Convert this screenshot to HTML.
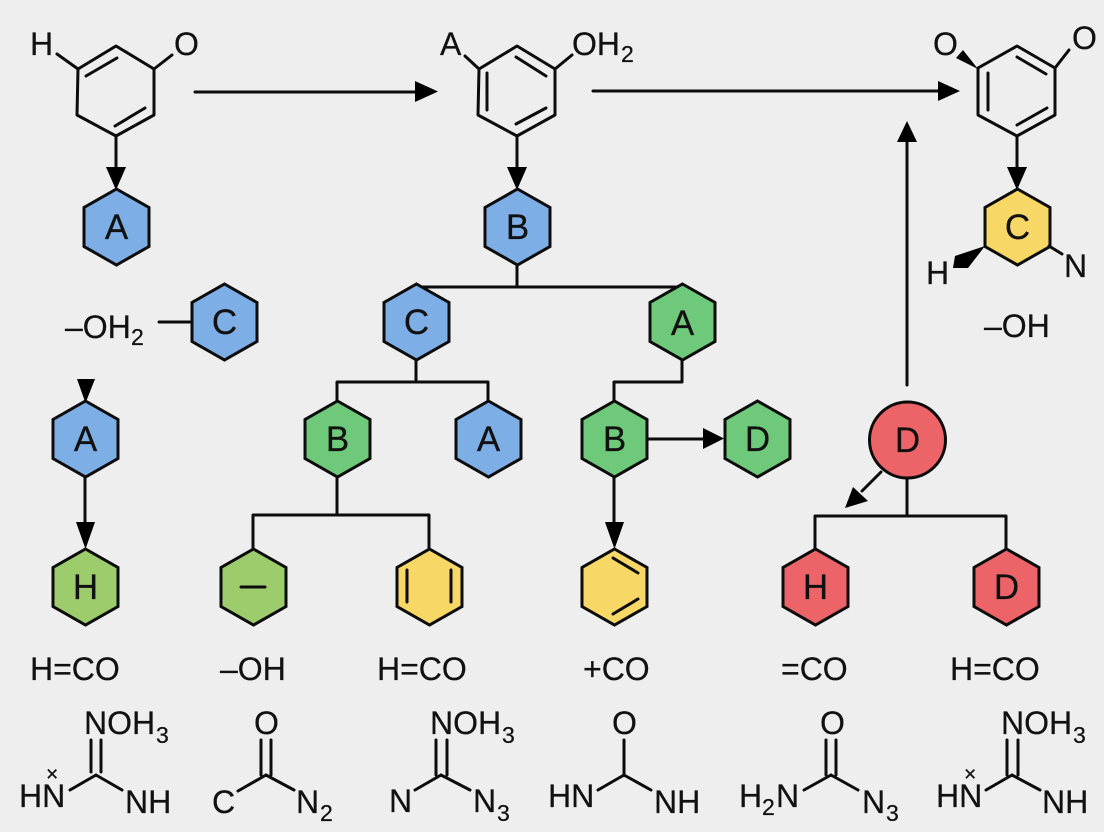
<!DOCTYPE html>
<html lang="en"><head><meta charset="utf-8"><title>Diagram</title>
<style>
html,body{margin:0;padding:0;background:#eeeeee}
svg{display:block}
text{font-family:"Liberation Sans",sans-serif;fill:#111;font-size:32px;stroke:#111;stroke-width:.25px}
.n{font-size:35px;text-anchor:middle}
.s{font-size:23px}
.l{fill:none;stroke:#0c0c0c;stroke-width:3;stroke-linecap:round;stroke-linejoin:round}
.h{stroke:#0c0c0c;stroke-width:3;stroke-linejoin:miter}
.a{fill:#000}
</style></head><body>
<svg width="1104" height="832" viewBox="0 0 1104 832" xmlns="http://www.w3.org/2000/svg">
<defs><polygon id="h" points="0,-38 32.5,-19.5 32.5,19.5 0,38 -32.5,19.5 -32.5,-19.5"/></defs>
<rect width="1104" height="832" fill="#eeeeee"/>

<!-- connectors -->
<path class="l" d="M116,136V170M517,136V170M1017,136V170
M195,92H416M593,91H940M907,385V140
M517,265V287M416,287H682M159,322H191
M416,360V382M337,382H488M337,382V401M488,382V401
M682,360V382H614V401
M647,439H704M614,477V525
M337,477V515M253,515H429M253,515V549M429,515V549
M85,477V525
M907,478V516M815,516H1006M815,516V549M1006,516V549M881,472L862,491"/>

<!-- arrowheads -->
<g class="a">
<polygon points="106,167 126,167 116,190"/>
<polygon points="507,167 527,167 517,190"/>
<polygon points="1007,167 1027,167 1017,190"/>
<polygon points="415,81 415,102 438,91.500"/>
<polygon points="938,81 938,101 960,91"/>
<polygon points="897,142 917,142 907,121"/>
<polygon points="703,428 703,449 724,438.500"/>
<polygon points="605,522 624,522 614.500,549"/>
<polygon points="76,522 95,522 85.500,549"/>
<polygon points="77,379 95,379 85.500,403"/>
<polygon points="845,508 853,487 868,501"/>
</g>

<!-- nodes -->
<g class="h">
<use href="#h" x="116.500" y="227" fill="#7eaee6"/>
<use href="#h" x="517.500" y="227" fill="#7eaee6"/>
<use href="#h" x="1017.500" y="227" fill="#f7d766"/>
<use href="#h" x="224.500" y="322" fill="#7eaee6"/>
<use href="#h" x="416.500" y="322" fill="#7eaee6"/>
<use href="#h" x="682.500" y="322" fill="#6fc97a"/>
<use href="#h" x="85.500" y="439" fill="#7eaee6"/>
<use href="#h" x="337.500" y="439" fill="#6fc97a"/>
<use href="#h" x="488.500" y="439" fill="#7eaee6"/>
<use href="#h" x="614.500" y="439" fill="#6fc97a"/>
<use href="#h" x="757.500" y="439" fill="#6fc97a"/>
<circle cx="907.500" cy="440" r="38" fill="#ec6468"/>
<use href="#h" x="85.500" y="587" fill="#9ccc6c"/>
<use href="#h" x="253.500" y="587" fill="#9ccc6c"/>
<use href="#h" x="429.500" y="587" fill="#f7d766"/>
<use href="#h" x="614.500" y="587" fill="#f7d766"/>
<use href="#h" x="815.500" y="587" fill="#ec6468"/>
<use href="#h" x="1006.500" y="587" fill="#ec6468"/>
</g>
<path class="l" d="M241,587H265M407,570V602M451,570V602M613,558L638,573M613,614L638,599"/>
<g>
<text class="n" x="116.500" y="239">A</text>
<text class="n" x="517.500" y="239">B</text>
<text class="n" x="1017.500" y="239">C</text>
<text class="n" x="224.500" y="334">C</text>
<text class="n" x="416.500" y="334">C</text>
<text class="n" x="682.500" y="335">A</text>
<text class="n" x="85.500" y="451">A</text>
<text class="n" x="337.500" y="451">B</text>
<text class="n" x="488.500" y="451">A</text>
<text class="n" x="614.500" y="451">B</text>
<text class="n" x="757.500" y="451">D</text>
<text class="n" x="907.500" y="452">D</text>
<text class="n" x="85.500" y="599">H</text>
<text class="n" x="815.500" y="599">H</text>
<text class="n" x="1006.500" y="599">D</text>
</g>

<!-- top rings -->
<path class="l" d="M116,46L154,69V115L116,136L77,115L78,69ZM86,76L117,58M115,126L145,108M57,54L78,69M154,69L172,55"/>
<path class="l" d="M517,46L555,69V115L517,136L478,115L479,69ZM487,73V110M516,124L546,108M516,57L546,76M465,56L479,69M555,69L572,55"/>
<path class="l" d="M1017,46L1055,68V115L1017,136L978,115V68ZM988,73V110M1017,57L1046,74M1017,125L1047,108M1055,68L1069,50M1049,246L1062,254"/>
<polygon class="a" points="978,69 956,58 963,50"/>
<polygon class="a" points="985,246 955,256 953,268 968,268"/>

<text x="30" y="55">H</text>
<text x="174" y="55">O</text>
<text x="440" y="55">A</text>
<text x="572" y="55">OH</text><text class="s" x="621" y="62">2</text>
<text x="933" y="55">O</text>
<text x="1072" y="49">O</text>
<text x="926" y="284">H</text>
<text x="1064" y="277">N</text>
<text x="984" y="337">–OH</text>
<text x="65" y="338">–OH</text><text class="s" x="131" y="345">2</text>

<!-- label row -->
<text x="30" y="680">H=CO</text>
<text x="220" y="680">–OH</text>
<text x="377" y="680">H=CO</text>
<text x="583" y="680">+CO</text>
<text x="781" y="680">=CO</text>
<text x="950" y="680">H=CO</text>

<!-- bottom molecules -->
<path class="l" d="M91,740V772M101,740V772M96,775L70,790M96,775L122,790
M261,740V775M271,740V775M266,775L238,791M266,775L294,790
M436,740V775M447,740V775M441,775L415,790M441,775L470,790
M624,740V775M624,775L598,790M624,775L651,790
M826,740V775M836,740V775M831,775L804,790M831,775L858,790
M1007,740V775M1018,740V775M1012,775L986,790M1012,775L1040,790"/>

<text x="84" y="734">NOH</text><text class="s" x="156" y="743">3</text>
<text x="19" y="807">HN</text>
<text x="46" y="781" style="font-size:21px">×</text>
<text x="125" y="813">NH</text>

<text x="254" y="734">O</text>
<text x="212" y="813">C</text>
<text x="296" y="813">N</text><text class="s" x="320" y="821">2</text>

<text x="430" y="734">NOH</text><text class="s" x="502" y="743">3</text>
<text x="389" y="812">N</text>
<text x="473" y="812">N</text><text class="s" x="497" y="821">3</text>

<text x="612" y="734">O</text>
<text x="548" y="807">HN</text>
<text x="654" y="813">NH</text>

<text x="820" y="734">O</text>
<text x="739" y="807">H</text><text class="s" x="762" y="815">2</text><text x="776" y="807">N</text>
<text x="862" y="813">N</text><text class="s" x="886" y="821">3</text>

<text x="1001" y="734">NOH</text><text class="s" x="1073" y="743">3</text>
<text x="936" y="807">HN</text>
<text x="964" y="781" style="font-size:21px">×</text>
<text x="1042" y="813">NH</text>
</svg>
</body></html>
